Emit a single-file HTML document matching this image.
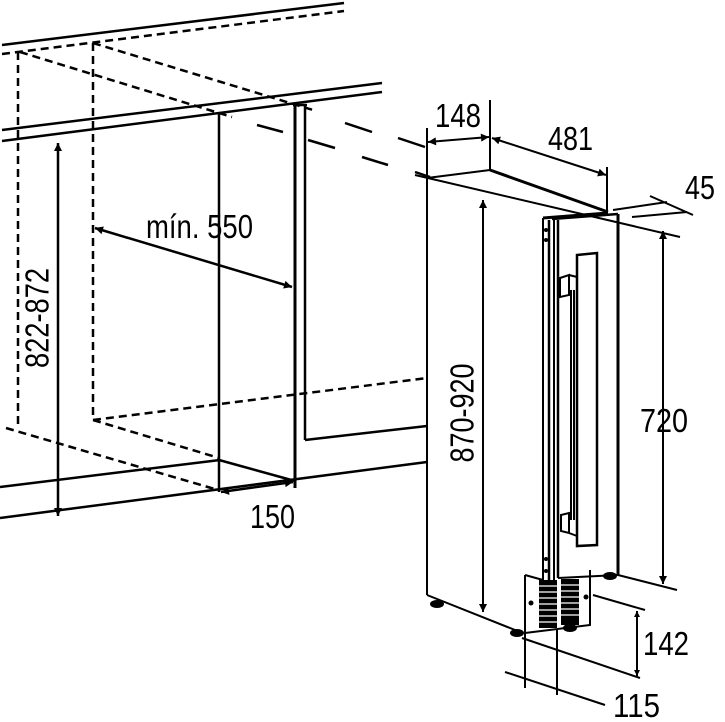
<!DOCTYPE html>
<html><head><style>body{margin:0;background:#fff}svg{display:block}text{font-family:"Liberation Sans Narrow","Liberation Sans",sans-serif;font-size:33px;fill:#000}</style></head>
<body>
<svg width="725" height="722" viewBox="0 0 725 722" xmlns="http://www.w3.org/2000/svg">
<defs>
<marker id="a" viewBox="0 0 10 10" refX="10" refY="5" markerWidth="10" markerHeight="6" orient="auto-start-reverse" markerUnits="userSpaceOnUse"><path d="M0,0L10,5L0,10z" fill="#000"/></marker>
<marker id="b" viewBox="0 0 10 10" refX="10" refY="5" markerWidth="16" markerHeight="8" orient="auto-start-reverse" markerUnits="userSpaceOnUse"><path d="M0,0L10,5L0,10z" fill="#000"/></marker>
</defs>
<g stroke="#000" fill="none" stroke-width="2.5">
<line x1="2" y1="45" x2="344" y2="3"/>
<line x1="2" y1="54" x2="344" y2="11" stroke-dasharray="8,5"/>
<line x1="18" y1="52" x2="18" y2="428" stroke-dasharray="8,5"/>
<line x1="93" y1="43" x2="93" y2="420" stroke-dasharray="8,5"/>
<line x1="20" y1="52" x2="232" y2="117" stroke-dasharray="8,5"/>
<line x1="93" y1="43" x2="313" y2="110" stroke-dasharray="8,5"/>
<line x1="257" y1="125" x2="283" y2="132"/>
<line x1="308" y1="140" x2="335" y2="148"/>
<line x1="362" y1="157" x2="388" y2="165"/>
<line x1="415" y1="172" x2="430" y2="177"/>
<line x1="345" y1="123" x2="372" y2="132"/>
<line x1="398" y1="138" x2="425" y2="147"/>
<line x1="2" y1="130" x2="382" y2="83"/>
<line x1="2" y1="141" x2="382" y2="92"/>
<line x1="219" y1="113" x2="219" y2="492"/>
<line x1="295" y1="106" x2="295" y2="488" stroke-width="3"/>
<line x1="305" y1="105" x2="305" y2="440"/>
<line x1="293" y1="105" x2="307" y2="105"/>
<line x1="305" y1="440" x2="427" y2="426"/>
<line x1="93" y1="420" x2="427" y2="378" stroke-dasharray="8,5"/>
<line x1="6" y1="428" x2="218" y2="490" stroke-dasharray="8,5"/>
<line x1="93" y1="420" x2="219" y2="458" stroke-dasharray="8,5"/>
<line x1="219" y1="460" x2="295" y2="481"/>
<line x1="0" y1="487" x2="220" y2="460"/>
<line x1="0" y1="518" x2="427" y2="462"/>
<line x1="58" y1="143" x2="58" y2="516" marker-start="url(#b)" marker-end="url(#b)"/>
<line x1="95" y1="228" x2="292" y2="287" marker-start="url(#b)" marker-end="url(#b)"/>
<line x1="221" y1="492" x2="293" y2="482" marker-start="url(#b)" marker-end="url(#b)"/>
<line x1="427" y1="128" x2="427" y2="595" stroke-width="2"/>
<line x1="427" y1="595" x2="520" y2="632" stroke-width="2"/>
<line x1="415" y1="175" x2="680" y2="237" stroke-width="2"/>
<line x1="427" y1="178" x2="490" y2="170" stroke-width="2"/>
<line x1="490" y1="170" x2="608" y2="212" stroke-width="3"/>
<line x1="490" y1="100" x2="490" y2="170" stroke-width="2"/>
<line x1="607" y1="167" x2="607" y2="212" stroke-width="2"/>
<line x1="428" y1="142" x2="489" y2="137" stroke-width="2" marker-start="url(#b)" marker-end="url(#b)"/>
<line x1="492" y1="138" x2="606" y2="175" stroke-width="2" marker-start="url(#b)" marker-end="url(#b)"/>
<line x1="613" y1="210" x2="667" y2="202" stroke-width="2"/>
<line x1="632" y1="217" x2="687" y2="212" stroke-width="2"/>
<line x1="650" y1="196" x2="693" y2="215" stroke-width="2"/>
<line x1="483" y1="200" x2="483" y2="612" stroke-width="2" marker-start="url(#b)" marker-end="url(#b)"/>
<line x1="663" y1="231" x2="663" y2="584" stroke-width="2" marker-start="url(#b)" marker-end="url(#b)"/>
<line x1="618" y1="575" x2="677" y2="590" stroke-width="2"/>
<line x1="543" y1="218" x2="608" y2="213" stroke-width="3"/>
<line x1="543" y1="218" x2="543" y2="580" stroke-width="2"/>
<line x1="549" y1="220" x2="549" y2="580" stroke-width="2.5"/>
<line x1="554" y1="220" x2="554" y2="580" stroke-width="2"/>
<line x1="558" y1="220" x2="558" y2="578" stroke-width="2.5"/>
<line x1="552" y1="219" x2="618" y2="214" stroke-width="2.5"/>
<line x1="618" y1="214" x2="618" y2="575" stroke-width="3"/>
<line x1="558" y1="578" x2="618" y2="575" stroke-width="2"/>
<path d="M577,255 L597,253 L597,545 L577,546 Z" stroke-width="2.5"/>
<path d="M560,278 L569,275 L569,295 L560,297 Z M569,275 L577,277 M571,290 L571,520 M574,290 L574,520" stroke-width="2"/>
<path d="M561,515 L569,513 L569,533 L561,531 Z M569,533 L577,536" stroke-width="2"/>
<path d="M525,575 L525,633 L590,625 L590,570" stroke-width="2"/>
<line x1="525" y1="575" x2="543" y2="580" stroke-width="2"/>
</g>
<g fill="#000">
<rect x="539" y="580" width="18" height="48"/>
<rect x="561" y="579" width="18" height="46"/>
</g>
<g stroke="#fff" stroke-width="1.3">
<line x1="539" y1="586" x2="557" y2="586"/><line x1="539" y1="592" x2="557" y2="592"/><line x1="539" y1="598" x2="557" y2="598"/><line x1="539" y1="604" x2="557" y2="604"/><line x1="539" y1="610" x2="557" y2="610"/><line x1="539" y1="616" x2="557" y2="616"/><line x1="539" y1="622" x2="557" y2="622"/>
<line x1="561" y1="585" x2="579" y2="585"/><line x1="561" y1="591" x2="579" y2="591"/><line x1="561" y1="597" x2="579" y2="597"/><line x1="561" y1="603" x2="579" y2="603"/><line x1="561" y1="609" x2="579" y2="609"/><line x1="561" y1="615" x2="579" y2="615"/>
</g>
<g fill="#000">
<circle cx="531" cy="603" r="2.5"/><circle cx="586" cy="597" r="2.5"/>
<circle cx="546" cy="559" r="2"/><circle cx="546" cy="571" r="2"/><circle cx="546" cy="230" r="2"/><circle cx="546" cy="240" r="2"/>
<ellipse cx="437" cy="604" rx="7" ry="4"/><ellipse cx="517" cy="633" rx="7" ry="4"/><ellipse cx="570" cy="628" rx="7" ry="4"/><ellipse cx="610" cy="576" rx="7" ry="4"/>
</g>
<g stroke="#000" fill="none" stroke-width="2">
<line x1="525" y1="633" x2="525" y2="688"/>
<line x1="557" y1="630" x2="557" y2="695"/>
<line x1="505" y1="672" x2="605" y2="705"/>
<line x1="593" y1="595" x2="645" y2="610"/>
<line x1="522" y1="638" x2="640" y2="678"/>
<line x1="637" y1="611" x2="637" y2="676" marker-start="url(#a)" marker-end="url(#a)"/>
</g>
<text x="40" y="318" text-anchor="middle" transform="rotate(-90 40 318)" dominant-baseline="middle" textLength="100" lengthAdjust="spacingAndGlyphs">822-872</text>
<text x="146" y="238" textLength="107" lengthAdjust="spacingAndGlyphs">mín. 550</text>
<text x="250" y="528" textLength="45" lengthAdjust="spacingAndGlyphs">150</text>
<text x="435" y="127" textLength="46" lengthAdjust="spacingAndGlyphs">148</text>
<text x="548" y="150" textLength="45" lengthAdjust="spacingAndGlyphs">481</text>
<text x="685" y="199" textLength="30" lengthAdjust="spacingAndGlyphs">45</text>
<text x="640" y="432" textLength="48" lengthAdjust="spacingAndGlyphs">720</text>
<text x="465" y="413" text-anchor="middle" transform="rotate(-90 465 413)" dominant-baseline="middle" textLength="99" lengthAdjust="spacingAndGlyphs">870-920</text>
<text x="643" y="655" textLength="46" lengthAdjust="spacingAndGlyphs">142</text>
<text x="613" y="717" textLength="47" lengthAdjust="spacingAndGlyphs">115</text>
</svg>
</body></html>
